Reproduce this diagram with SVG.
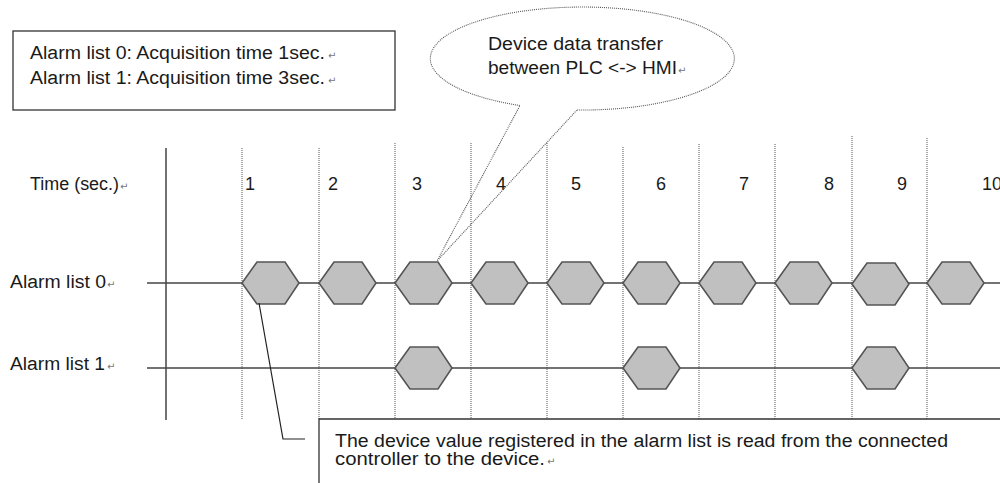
<svg xmlns="http://www.w3.org/2000/svg" width="1000" height="483" viewBox="0 0 1000 483">
<style>
text{font-family:"Liberation Sans",Arial,sans-serif;font-size:18px;fill:#1a1a1a}
.ret{font-family:"DejaVu Sans",sans-serif;font-size:10px;fill:#777}
.box{fill:#fff;stroke:#333;stroke-width:1.3}
.axis{stroke:#444;stroke-width:1.5;fill:none}
.grid{stroke:#555;stroke-width:1;stroke-dasharray:1 1;fill:none}
.hex{fill:#c0c0c0;stroke:#555;stroke-width:1.6;stroke-linejoin:miter}
.callout{fill:none;stroke:#555;stroke-width:1.1;stroke-dasharray:1 1}
.leader{stroke:#222;stroke-width:1.2;fill:none}
</style>
<defs>
<polygon id="hx" points="0,0 15,-21 43,-21 57,0 43,21 15,21" class="hex"/>
</defs>
<rect width="1000" height="483" fill="#fff"/>

<g id="acq-box">
<rect class="box" x="13" y="31" width="382" height="79"/>
<text x="30" y="59" textLength="295" lengthAdjust="spacingAndGlyphs">Alarm list 0: Acquisition time 1sec.</text><text x="328" y="59" class="ret">↵</text>
<text x="30" y="84" textLength="295" lengthAdjust="spacingAndGlyphs">Alarm list 1: Acquisition time 3sec.</text><text x="328" y="84" class="ret">↵</text>
</g>

<g id="grid">
<line class="axis" x1="166" y1="148" x2="166" y2="420"/>
<line class="grid" x1="242" y1="148" x2="242" y2="419"/>
<line class="grid" x1="319" y1="148" x2="319" y2="419"/>
<line class="grid" x1="395" y1="143" x2="395" y2="419"/>
<line class="grid" x1="471" y1="143" x2="471" y2="419"/>
<line class="grid" x1="547" y1="143" x2="547" y2="419"/>
<line class="grid" x1="623" y1="147" x2="623" y2="419"/>
<line class="grid" x1="699" y1="144" x2="699" y2="419"/>
<line class="grid" x1="775" y1="144" x2="775" y2="419"/>
<line class="grid" x1="852" y1="136" x2="852" y2="419"/>
<line class="grid" x1="927" y1="138" x2="927" y2="419"/>
<line class="axis" x1="147" y1="283" x2="1000" y2="283"/>
<line class="axis" x1="147" y1="368" x2="1000" y2="368"/>
</g>

<g id="labels">
<text x="30" y="190" textLength="89" lengthAdjust="spacingAndGlyphs">Time (sec.)</text><text x="120" y="190" class="ret">↵</text>
<text x="10" y="288" textLength="96" lengthAdjust="spacingAndGlyphs">Alarm list 0</text><text x="107" y="288" class="ret">↵</text>
<text x="10" y="370" textLength="95" lengthAdjust="spacingAndGlyphs">Alarm list 1</text><text x="107" y="370" class="ret">↵</text>
<text x="245" y="190">1</text>
<text x="328" y="190">2</text>
<text x="412" y="190">3</text>
<text x="496" y="190">4</text>
<text x="571" y="190">5</text>
<text x="656" y="190">6</text>
<text x="739" y="190">7</text>
<text x="824" y="190">8</text>
<text x="897" y="190">9</text>
<text x="982" y="190">10</text>
</g>

<g id="alarm-list-0">
<use href="#hx" x="242" y="283"/>
<use href="#hx" x="319" y="283"/>
<use href="#hx" x="395" y="283"/>
<use href="#hx" x="471" y="283"/>
<use href="#hx" x="547" y="283"/>
<use href="#hx" x="623" y="283"/>
<use href="#hx" x="699" y="283"/>
<use href="#hx" x="775" y="283"/>
<use href="#hx" x="852" y="284"/>
<use href="#hx" x="927" y="283"/>
</g>

<g id="alarm-list-1">
<use href="#hx" x="395" y="368"/>
<use href="#hx" x="623" y="368"/>
<use href="#hx" x="852" y="368"/>
</g>

<g id="connectors">
<polyline class="leader" points="259,303 283,439 305,439"/>
</g>

<g id="callout">
<path class="callout" d="M577,110 A152,51.5 0 1 0 520,105.5 L437,261 Z"/>
<text x="488" y="50" textLength="175" lengthAdjust="spacingAndGlyphs">Device data transfer</text>
<text x="488" y="74" textLength="189" lengthAdjust="spacingAndGlyphs">between PLC &lt;-&gt; HMI</text><text x="678" y="74" class="ret">↵</text>
</g>

<g id="note-box">
<path class="box" d="M1001,419 H319 V484"/>
<text x="335" y="447" textLength="613" lengthAdjust="spacingAndGlyphs">The device value registered in the alarm list is read from the connected</text>
<text x="335" y="465" textLength="210" lengthAdjust="spacingAndGlyphs">controller to the device.</text><text x="547" y="465" class="ret">↵</text>
</g>
</svg>
